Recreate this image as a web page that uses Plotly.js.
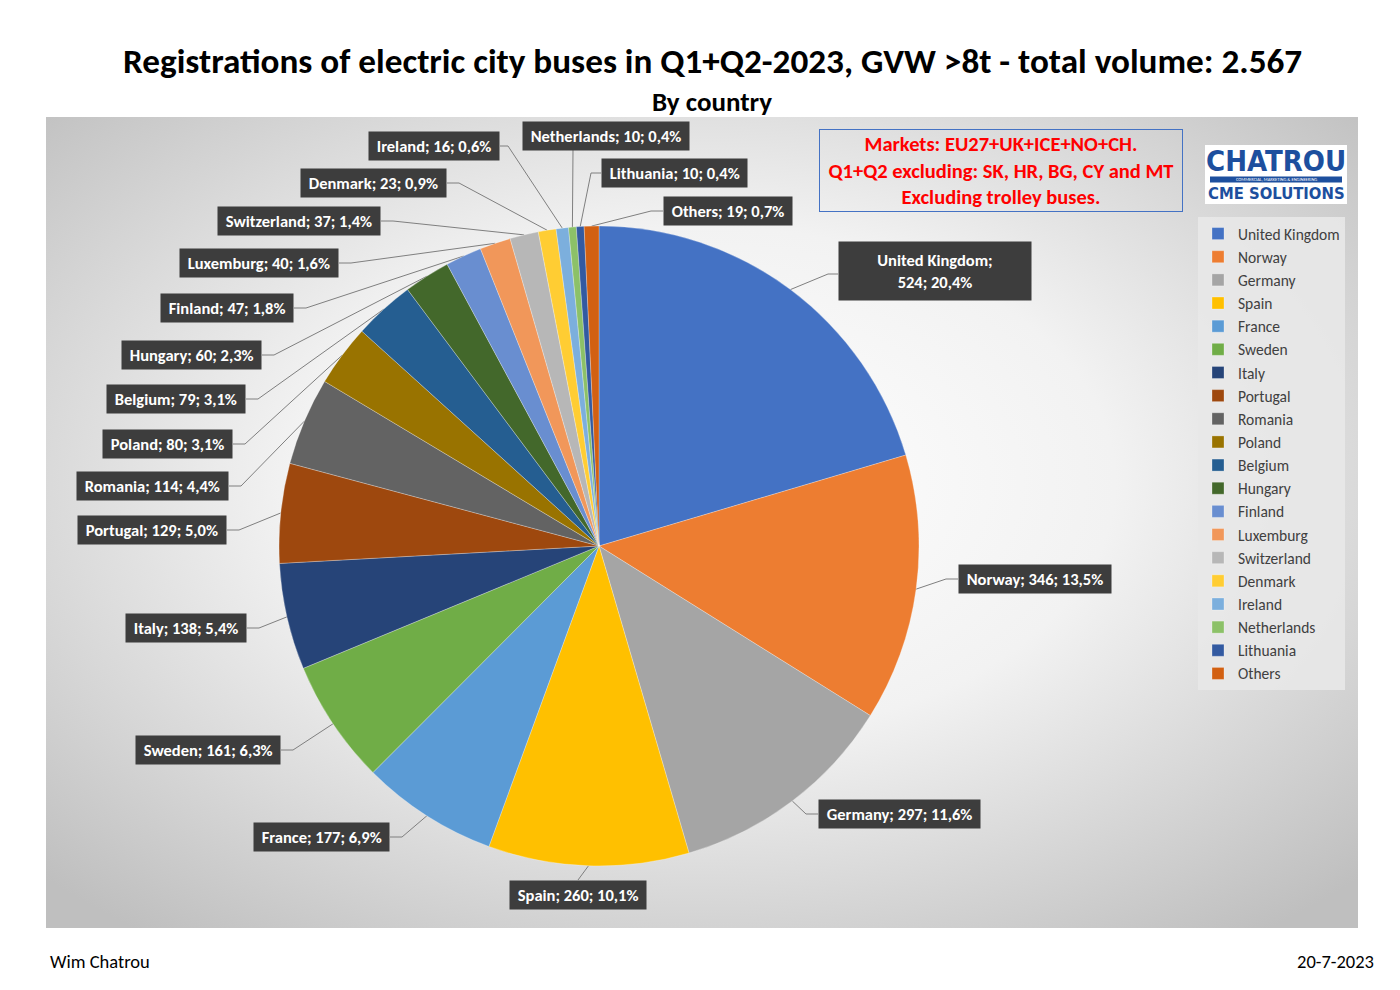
<!DOCTYPE html>
<html>
<head>
<meta charset="utf-8">
<script src="https://cdn.plot.ly/plotly-3.0.1.min.js"></script>
<style>html,body{margin:0;padding:0;background:#fff;}#chart{width:1400px;height:990px;}</style>
</head>
<body>
<div id="chart"></div>
<script>
// ---- data ----
const countries = ["United Kingdom","Norway","Germany","Spain","France","Sweden","Italy","Portugal","Romania","Poland","Belgium","Hungary","Finland","Luxemburg","Switzerland","Denmark","Ireland","Netherlands","Lithuania","Others"];
const registrations = [524,346,297,260,177,161,138,129,114,80,79,60,47,40,37,23,16,10,10,19];
const sliceColors = ["#4472C4","#ED7D31","#A5A5A5","#FFC000","#5B9BD5","#70AD47","#264478","#9E480E","#636363","#997300","#255E91","#43682B","#698ED0","#F1975A","#B7B7B7","#FFCD33","#7CAFDD","#8CC168","#335AA1","#D26012"];
const titleText = "Registrations of electric city buses in Q1+Q2-2023, GVW >8t - total volume: 2.567";
const subtitleText = "By country";
const noteLines = ["Markets: EU27+UK+ICE+NO+CH.","Q1+Q2 excluding: SK, HR, BG, CY and MT","Excluding trolley buses."];
const author = "Wim Chatrou";
const dateText = "20-7-2023";

// ---- label placement (layout positions, pixel coords) ----
// [annX, annY, xanchor, attachX, attachY, elbowX]
const labelPos = [
  [838,271,'left',838,274,828],
  [958,579,'left',958,579,946],
  [818,814,'left',818,814,806],
  [578,895,'center',578,880,578],
  [390,837,'right',390,837,402],
  [281,750,'right',281,750,293],
  [247,628,'right',247,628,259],
  [227,530,'right',227,530,239],
  [229,486,'right',229,486,241],
  [233,444,'right',233,444,245],
  [246,399,'right',246,399,258],
  [262,355,'right',262,355,274],
  [294,308,'right',294,308,306],
  [339,263,'right',339,263,351],
  [381,221,'right',381,221,393],
  [447,183,'right',447,183,459],
  [500,146,'right',500,146,508],
  [606,136,'center',573,150,573],
  [601,173,'left',601,173,591],
  [663,211,'left',663,211,651]
];

const W = 1400, H = 990;
const pieCx = 599, pieCy = 546, pieR = 320;
const FONT = "Carlito, Lato, 'Open Sans', sans-serif";

const total = registrations.reduce((a,b)=>a+b,0);
function pct(v){ return (v/total*100).toFixed(1).replace('.',','); }

// leader lines computed from data
const lx = [], ly = [];
let cum = 0;
registrations.forEach((v,i)=>{
  const mid = (cum + v/2)/total;
  cum += v;
  const th = 2*Math.PI*mid;
  const px = pieCx + pieR*Math.sin(th);
  const py = pieCy - pieR*Math.cos(th);
  const p = labelPos[i];
  lx.push(px, p[5], p[3], null);
  ly.push(py, p[4], p[4], null);
});

const annotations = [];
countries.forEach((c,i)=>{
  const p = labelPos[i];
  const txt = i===0 ? c + ";<br>" + registrations[i] + "; " + pct(registrations[i]) + "%"
                    : '&nbsp;' + c + "; " + registrations[i] + "; " + pct(registrations[i]) + "%" + '&nbsp;';
  annotations.push({
    x:p[0], y:p[1], xref:'x', yref:'y', xanchor:p[2], yanchor:'middle',
    text:'<b>'+txt+'</b>', showarrow:false,
    font:{family:FONT, size:16.5, color:'#ffffff'},
    bgcolor:'#3d3d3d', borderpad:4, align:'center',
    width: i===0 ? 184 : undefined,
    height: i===0 ? 50 : undefined
  });
});

annotations.push({x:712,y:60,xref:'x',yref:'y',text:'<b>'+titleText+'</b>',showarrow:false,font:{family:FONT,size:35.2,color:'#000'},xanchor:'center',yanchor:'middle'});
annotations.push({x:712,y:101,xref:'x',yref:'y',text:'<b>'+subtitleText+'</b>',showarrow:false,font:{family:FONT,size:27,color:'#000'},xanchor:'center',yanchor:'middle'});
annotations.push({x:1001,y:170,xref:'x',yref:'y',text:'<b>'+noteLines.join('<br>')+'</b>',showarrow:false,font:{family:FONT,size:20.5,color:'#ff0000'},xanchor:'center',yanchor:'middle',align:'center',bordercolor:'#4472C4',borderwidth:1,width:360,height:79,borderpad:1});
annotations.push({x:48,y:961,xref:'x',yref:'y',text:author,showarrow:false,font:{family:FONT,size:18.5,color:'#000'},xanchor:'left',yanchor:'middle'});
annotations.push({x:1376,y:961,xref:'x',yref:'y',text:dateText,showarrow:false,font:{family:FONT,size:18.5,color:'#000'},xanchor:'right',yanchor:'middle'});
// logo
annotations.push({x:1276,y:161,xref:'x',yref:'y',text:'<b>CHATROU</b>',showarrow:false,font:{family:"'Liberation Sans Narrow','DejaVu Sans Condensed',sans-serif",size:29,color:'#1d4f9e'},xanchor:'center',yanchor:'middle'});
annotations.push({x:1276,y:179.5,xref:'x',yref:'y',text:'COMMERCIAL, MARKETING & ENGINEERING',showarrow:false,font:{family:FONT,size:4.5,color:'#ffffff'},xanchor:'center',yanchor:'middle'});
annotations.push({x:1276,y:193,xref:'x',yref:'y',text:'<b>CME SOLUTIONS</b>',showarrow:false,font:{family:"'Liberation Sans Narrow','DejaVu Sans Condensed',sans-serif",size:16.5,color:'#1d4f9e'},xanchor:'center',yanchor:'middle'});

const bgSvg = '<svg xmlns="http://www.w3.org/2000/svg" width="1312" height="811"><defs><radialGradient id="g" cx="50%" cy="45%" r="70%"><stop offset="0" stop-color="#ffffff"/><stop offset="0.45" stop-color="#f2f2f2"/><stop offset="1" stop-color="#bfbfbf"/></radialGradient></defs><rect width="1312" height="811" fill="url(#g)"/></svg>';
const bgUri = 'data:image/svg+xml;base64,' + btoa(bgSvg);

const traces = [
  {
    type:'pie', labels:countries, values:registrations, sort:false, direction:'clockwise', rotation:0,
    marker:{colors:sliceColors, line:{color:'rgba(255,255,255,0.45)', width:0.6}},
    textinfo:'none', hoverinfo:'label+value+percent',
    domain:{x:[(pieCx-pieR)/W,(pieCx+pieR)/W], y:[1-(pieCy+pieR)/H, 1-(pieCy-pieR)/H]}
  },
  {
    type:'scatter', mode:'lines', x:lx, y:ly, showlegend:false, hoverinfo:'skip',
    line:{color:'#7f7f7f', width:1}, connectgaps:false
  }
];

const layout = {
  width:W, height:H, margin:{l:0,r:0,t:0,b:0},
  paper_bgcolor:'#ffffff', plot_bgcolor:'rgba(0,0,0,0)',
  xaxis:{range:[0,W], visible:false, fixedrange:true},
  yaxis:{range:[H,0], visible:false, fixedrange:true},
  showlegend:true,
  legend:{x:1198/W, y:1-217/H, xanchor:'left', yanchor:'top', bgcolor:'rgba(232,232,232,0.9)',
          font:{family:FONT, size:15.5, color:'#404040'}, itemwidth:30, traceorder:'normal'},
  images:[{source:bgUri, xref:'paper', yref:'paper', x:46/W, y:1-117/H, sizex:1312/W, sizey:811/H, xanchor:'left', yanchor:'top', sizing:'stretch', layer:'below'}],
  shapes:[
    {type:'rect', xref:'x', yref:'y', x0:1205, x1:1347, y0:145, y1:204, fillcolor:'#ffffff', line:{width:0}},
    {type:'rect', xref:'x', yref:'y', x0:1210, x1:1342, y0:176.5, y1:182.5, fillcolor:'#1d4f9e', line:{width:0}}
  ],
  annotations:annotations
};

Plotly.newPlot('chart', traces, layout, {displayModeBar:false, staticPlot:true});
</script>
</body>
</html>
